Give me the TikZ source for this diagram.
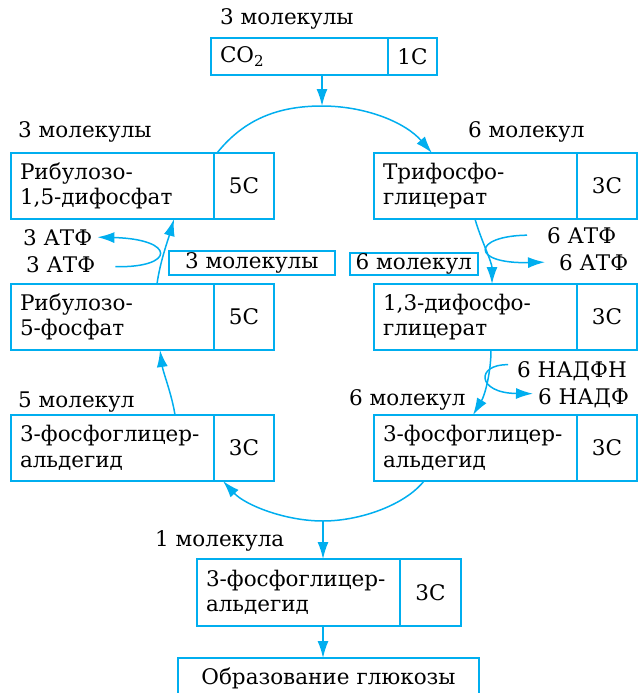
\documentclass[tikz,border=0pt]{standalone}
\usepackage{fontspec}
\setmainfont{DejaVu Serif}
\usetikzlibrary{arrows.meta,positioning}
\definecolor{cyanline}{RGB}{0,174,239}

\begin{document}
\begin{tikzpicture}[
    x=1pt, y=-1pt,
    font=\fontsize{21.5pt}{25.5pt}\selectfont,
    namebox/.style={draw=cyanline, line width=1.5pt, outer sep=0pt, anchor=north west,
        minimum height=66pt, text width=185pt, inner xsep=9pt, inner ysep=0pt, align=left},
    cntbox/.style={draw=cyanline, line width=1.5pt, outer sep=0pt,
        minimum width=60pt, minimum height=66pt, inner sep=0pt},
    tagbox/.style={draw=cyanline, line width=1.5pt, anchor=north west, inner sep=0pt},
    lbl/.style={inner sep=0pt, anchor=base west},
    ln/.style={draw=cyanline, line width=1.5pt},
    arr/.style={ln, -{Latex[length=17pt,width=11pt]}}
]
    \useasboundingbox (0,0) rectangle (639,693);

    % CO2
    \node[namebox, text width=159pt, minimum height=37pt] (co2) at (211,38) {CO\textsubscript{2}};
    \node[cntbox, minimum width=49pt, minimum height=37pt, right=0pt of co2] (co2c) {1C};
    \node[lbl] (m3top) at (220,25) {3 молекулы};

    % left column
    \node[namebox] (rib1) at (11,153) {Рибулозо-\\1,5-дифосфат};
    \node[cntbox, right=0pt of rib1] (rib1c) {5C};
    \node[namebox] (rib5) at (11,284) {Рибулозо-\\5-фосфат};
    \node[cntbox, right=0pt of rib5] (rib5c) {5C};
    \node[namebox] (pgaL) at (11,415) {3-фосфоглицер-\\альдегид};
    \node[cntbox, right=0pt of pgaL] (pgaLc) {3C};

    % right column
    \node[namebox] (tri) at (374,153) {Трифосфо-\\глицерат};
    \node[cntbox, right=0pt of tri] (tric) {3C};
    \node[namebox] (dph) at (374,284) {1,3-дифосфо-\\глицерат};
    \node[cntbox, right=0pt of dph] (dphc) {3C};
    \node[namebox] (pgaR) at (374,415) {3-фосфоглицер-\\альдегид};
    \node[cntbox, right=0pt of pgaR] (pgaRc) {3C};

    % bottom
    \node[namebox, minimum height=67pt] (pgaB) at (197,559) {3-фосфоглицер-\\альдегид};
    \node[cntbox, minimum width=61pt, minimum height=67pt, right=0pt of pgaB] (pgaBc) {3C};
    \node[namebox, text width=301pt, inner xsep=0pt, align=center, minimum height=40pt] (glu) at (178,658) {Образование глюкозы};

    % labels
    \node[lbl] (m3left) at (18,137) {3 молекулы};
    \node[lbl] (m6right) at (468,137) {6 молекул};
    \node[lbl] (atpL1) at (23,245) {3 АТФ};
    \node[lbl] (atpL2) at (26,272) {3 АТФ};
    \node[lbl] (atpR1) at (547,243) {6 АТФ};
    \node[lbl] (atpR2) at (559,270) {6 АТФ};
    \node[tagbox, minimum width=166pt, minimum height=24pt] (tagL) at (168,250) {3 молекулы};
    \node[tagbox, minimum width=128pt, minimum height=22pt] (tagR) at (349,252) {6 молекул};
    \node[lbl] (m5) at (18,407) {5 молекул};
    \node[lbl] (m6low) at (349,405) {6 молекул};
    \node[lbl] (nadph) at (517,377) {6 НАДФН};
    \node[lbl] (nadp) at (538,404) {6 НАДФ};
    \node[lbl] (m1) at (155,546) {1 молекула};

    \coordinate (top) at (322,106);
    \coordinate (bot) at (323,521);

    % CO2 into the cycle
    \draw[arr] (top |- co2.south) -- (top);
    \draw[arr] ([xshift=3pt]rib1c.north west) .. controls (245,118) and (280,106) .. (top)
        .. controls (365,106) and (405,122) .. ([xshift=58pt]tri.north west);

    % right side
    \draw[arr] ([xshift=101pt]tri.south west) .. controls (481,240) and (492,262) .. ([xshift=118pt]dph.north west);
    \draw[arr] ([xshift=-20pt]atpR1.west) .. controls (472,236) and (470,264) .. ([xshift=-14pt]atpR2.west);
    \draw[arr] ([xshift=117pt]dph.south west) .. controls (491,372) and (485,395) .. ([xshift=99pt]pgaR.north west);
    \draw[arr] ([xshift=-9pt,yshift=6pt]nadph.west) .. controls (476,364) and (476,393) .. ([xshift=-5pt,yshift=4pt]nadp.west);

    % left side
    \draw[arr] ([xshift=164pt]pgaL.north west) .. controls (172,395) and (163,372) .. ([xshift=149pt]rib5.south west);
    \draw[arr] ([xshift=146pt]rib5.north west) .. controls (160,262) and (168,240) .. ([xshift=163pt]rib1.south west);
    \draw[arr] ([xshift=20pt,yshift=-2.5pt]atpL2.east) .. controls (176,268) and (176,239) .. ([xshift=5pt]atpL1.east);

    % out of the cycle
    \draw[arr] ([xshift=50pt]pgaR.south west) .. controls (405,505) and (360,521) .. (bot)
        .. controls (285,521) and (245,505) .. ([xshift=9pt]pgaLc.south west);
    \draw[arr] (bot) -- (bot |- pgaB.north);
    \draw[arr] (bot |- pgaB.south) -- (bot |- glu.north);
\end{tikzpicture}
\end{document}
